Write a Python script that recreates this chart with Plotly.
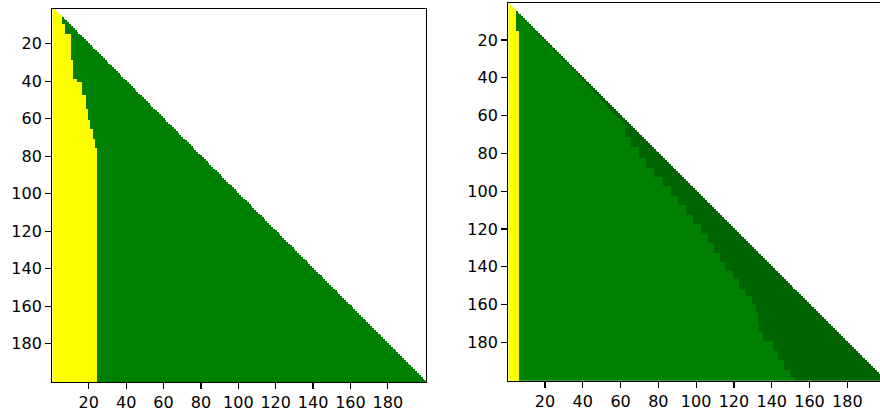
import numpy as np
import plotly.graph_objects as go

N = 200
tick_vals = [20, 40, 60, 80, 100, 120, 140, 160, 180]
tick_text = [str(v) for v in tick_vals]

# category codes: 0 = yellow, 1 = green, 2 = dark green, NaN = empty (above diagonal)
# Left panel: last yellow column, as steps (first row of step, last yellow column)
left_yellow_rows = [1, 4, 10, 15, 29, 39, 41, 48, 55, 61, 66, 71, 76]
left_yellow_cols = [3, 5, 7, 10, 11, 13, 16, 18, 19, 20, 22, 23, 24]

# Right panel: last yellow column
right_yellow_rows = [1, 16]
right_yellow_cols = [4, 6]
# Right panel: thin dark band along diagonal (band width in columns) for upper rows
right_band_rows = [16, 41, 51]
right_band_width = [1, 2, 3]
# Right panel: first dark-green column for lower rows
right_dark_rows = [67, 72, 77, 83, 88, 93, 98, 103, 108, 113, 118, 123, 128, 133,
                   138, 143, 147, 152, 156, 160, 165, 170, 175, 180, 185, 190, 195, 199]
right_dark_cols = [63, 66, 70, 74, 78, 83, 87, 91, 95, 99, 103, 107, 110, 113,
                   116, 120, 123, 127, 130, 132, 133, 134, 136, 141, 144, 147, 150, 153]


def step_lookup(rows, vals, r, default):
    out = default
    for rr, vv in zip(rows, vals):
        if r >= rr:
            out = vv
    return out


idx = np.arange(1, N + 1)

zl = np.full((N, N), np.nan)
zr = np.full((N, N), np.nan)
for i in idx:
    yb = step_lookup(left_yellow_rows, left_yellow_cols, i, 0)
    for j in range(1, i + 1):
        zl[i - 1, j - 1] = 0 if j <= yb else 1
    yb2 = step_lookup(right_yellow_rows, right_yellow_cols, i, 0)
    if i < right_dark_rows[0]:
        w = step_lookup(right_band_rows, right_band_width, i, 0)
        dstart = i - w + 1
    else:
        dstart = step_lookup(right_dark_rows, right_dark_cols, i, N + 1)
    for j in range(1, i + 1):
        if j <= yb2:
            zr[i - 1, j - 1] = 0
        elif j >= dstart:
            zr[i - 1, j - 1] = 2
        else:
            zr[i - 1, j - 1] = 1

cs = [[0.0, "#ffff00"], [0.3333, "#ffff00"], [0.3333, "#008000"], [0.6667, "#008000"],
      [0.6667, "#006400"], [1.0, "#006400"]]

fig = go.Figure()
fig.add_trace(go.Heatmap(z=zl, x=idx, y=idx, colorscale=cs, zmin=0, zmax=2,
                         showscale=False, xaxis="x", yaxis="y", hoverinfo="skip"))
fig.add_trace(go.Heatmap(z=zr, x=idx, y=idx, colorscale=cs, zmin=0, zmax=2,
                         showscale=False, xaxis="x2", yaxis="y2", hoverinfo="skip"))

W, H = 880, 415
axis_common = dict(tickmode="array", tickvals=tick_vals, ticktext=tick_text,
                   ticks="outside", ticklen=6, tickwidth=1.2, tickcolor="black",
                   showgrid=False, zeroline=False, showline=True, linecolor="black",
                   linewidth=1.2, tickfont=dict(family="DejaVu Sans", size=16, color="black"))

fig.update_layout(
    width=W, height=H, margin=dict(l=0, r=0, t=0, b=0),
    paper_bgcolor="white", plot_bgcolor="white", showlegend=False,
    xaxis=dict(domain=[52.3 / W, 425.6 / W], range=[0.5, 200.2], anchor="y",
               mirror=True, **axis_common),
    yaxis=dict(domain=[(H - 382.0) / H, (H - 9.0) / H], range=[200.5, 1.4], anchor="x",
               mirror=True, **axis_common),
    xaxis2=dict(domain=[508.3 / W, 1.0], range=[0.6, 197.3], anchor="y2",
                mirror=True, **axis_common),
    yaxis2=dict(domain=[(H - 380.7) / H, (H - 3.3) / H], range=[200.3, 0.6], anchor="x2",
                mirror=False, **axis_common),
)

fig.write_html(
    "out.html",
    config={"displayModeBar": False, "staticPlot": True},
    post_script="document.body.style.margin='0';document.body.style.overflow='hidden';",
)
